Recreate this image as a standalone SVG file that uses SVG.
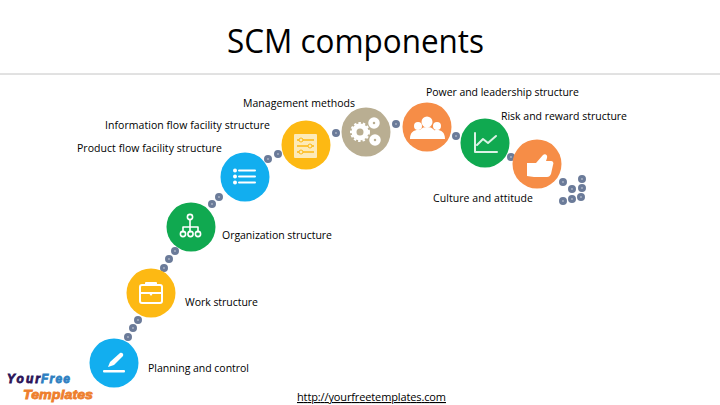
<svg xmlns="http://www.w3.org/2000/svg" width="720" height="405" viewBox="0 0 720 405">
<style>
text{font-family:"Open Sans","Liberation Sans",sans-serif;fill:#000}
.l{font-size:10.5px}
.d{fill:#d5d9e2;stroke:#6b7b99;stroke-width:3.2}
.w{fill:none;stroke:#fff;stroke-width:2;stroke-linecap:round;stroke-linejoin:round}
.f{fill:#fff}
.y{fill:#fdb913}.b{fill:#12aeef}.g{fill:#10a950}.o{fill:#f68d47}.t{fill:#b9ae92}
.lg{font-family:"Liberation Sans",sans-serif;font-weight:700;font-style:italic;stroke-width:.8}
</style>
<rect width="720" height="405" fill="#fff"/>
<line x1="0" y1="74" x2="720" y2="74" stroke="#c4c4c4" stroke-width="1"/>
<text x="227" y="53" font-size="32" textLength="257" lengthAdjust="spacingAndGlyphs">SCM components</text>
<g id="connectors">
<circle class="d" cx="138" cy="320" r="2.4"/><circle class="d" cx="133" cy="328" r="2.4"/><circle class="d" cx="128" cy="337" r="2.4"/>
<circle class="d" cx="175" cy="251" r="2.4"/><circle class="d" cx="169" cy="259" r="2.4"/><circle class="d" cx="164" cy="268" r="2.4"/>
<circle class="d" cx="219" cy="197" r="2.4"/><circle class="d" cx="212" cy="204" r="2.4"/>
<circle class="d" cx="278" cy="154" r="2.4"/><circle class="d" cx="268" cy="159" r="2.4"/>
<circle class="d" cx="336" cy="133" r="2.4"/><circle class="d" cx="396" cy="124" r="2.4"/>
<circle class="d" cx="456" cy="136" r="2.4"/><circle class="d" cx="511" cy="157" r="2.4"/>
<circle class="d" cx="563" cy="182" r="2.4"/><circle class="d" cx="582" cy="179" r="2.4"/><circle class="d" cx="572" cy="189" r="2.4"/><circle class="d" cx="582" cy="188" r="2.4"/><circle class="d" cx="581" cy="197" r="2.4"/><circle class="d" cx="572" cy="199" r="2.4"/><circle class="d" cx="563" cy="201" r="2.4"/>
</g>
<g id="planning">
<circle class="b" cx="114" cy="363" r="24.5"/>
<path class="f" d="M108 367l2-5 10-9c2-1 4 1 3 3l-9 9-6 2z"/>
<rect class="f" x="103" y="370" width="22" height="2.4" rx="1"/>
<text class="l" x="148" y="372" textLength="101">Planning and control</text>
</g>
<g id="work">
<circle class="y" cx="151" cy="293" r="24.5"/>
<rect class="w" x="140" y="285" width="22" height="18" rx="2"/>
<path class="w" d="M140 293h22M146 285v-2h10v2"/>
<path class="f" d="M148 292h6l-3 4z"/>
<text class="l" x="185" y="306" textLength="73">Work structure</text>
</g>
<g id="organization">
<circle class="g" cx="191" cy="227" r="24.5"/>
<g class="w" style="stroke-width:1.6"><circle cx="190" cy="217" r="2.6"/><path d="M190 220v7M183 232v-5h15v5M190 227v5"/><circle cx="183" cy="234" r="2.6"/><circle cx="190.500" cy="234" r="2.6"/><circle cx="198" cy="234" r="2.6"/></g>
<text class="l" x="222" y="239" textLength="110">Organization structure</text>
</g>
<g id="product-flow">
<circle class="b" cx="245" cy="177" r="24.5"/>
<circle class="f" cx="235" cy="170.500" r="2"/><circle class="f" cx="235" cy="176.500" r="2"/><circle class="f" cx="235" cy="182.500" r="2"/>
<path class="w" d="M239 170.500h16M239 176.500h16M239 182.500h16"/>
<text class="l" x="77" y="152" textLength="145">Product flow facility structure</text>
</g>
<g id="information-flow">
<circle class="y" cx="306" cy="145" r="24.500"/>
<rect x="294" y="134" width="23" height="24" rx="1" fill="#fdeab8"/>
<path d="M297 140h17M297 146h17M297 152h17" stroke="#fdb913" stroke-width="1.500"/>
<circle cx="301" cy="140" r="2" fill="#fdeab8" stroke="#fdb913"/><circle cx="310" cy="146" r="2" fill="#fdeab8" stroke="#fdb913"/><circle cx="301" cy="152" r="2" fill="#fdeab8" stroke="#fdb913"/>
<text class="l" x="105" y="129" textLength="165">Information flow facility structure</text>
</g>
<g id="management">
<circle class="t" cx="366" cy="132" r="24.500"/>
<circle cx="360" cy="132" r="6" fill="none" stroke="#fff" stroke-width="5"/>
<circle cx="360" cy="132" r="9" fill="none" stroke="#fff" stroke-width="2" stroke-dasharray="2.500 2"/>
<circle cx="374" cy="123" r="3.500" fill="none" stroke="#fff" stroke-width="4.500"/>
<circle cx="375" cy="140" r="3.500" fill="none" stroke="#fff" stroke-width="4.500"/>
<text class="l" x="243" y="107" textLength="112">Management methods</text>
</g>
<g id="power">
<circle class="o" cx="427" cy="127" r="24.500"/>
<circle class="f" cx="418" cy="126" r="4"/><circle class="f" cx="437" cy="126" r="4"/>
<path class="f" d="M410 139c0-7 4-9 8-9s6 2 7 9zM430 139c1-7 3-9 7-9s8 2 8 9z"/>
<circle class="f" cx="427" cy="122" r="5.500"/><path class="f" d="M417 139c0-9 5-12 10-12s10 3 10 12z"/>
<text class="l" x="426" y="96" textLength="153">Power and leadership structure</text>
</g>
<g id="risk">
<circle class="g" cx="485" cy="143" r="24.500"/>
<path class="w" d="M475 133v19h22M477 145l6-6 5 4 8-7" style="stroke-opacity:.85"/>
<text class="l" x="501" y="120" textLength="126">Risk and reward structure</text>
</g>
<g id="culture">
<circle class="o" cx="537" cy="164" r="24.500"/>
<path class="f" d="M527 163h9l7-8c2-2 5 0 4 3l-1 3h5c2 0 3 2 2 4l-2 9c-1 2-2 3-4 3h-13l-7-1z"/>
<text class="l" x="433" y="202" textLength="100">Culture and attitude</text>
</g>
<g id="logo">
<text class="lg" x="7" y="383" font-size="12" style="fill:#2b1458;stroke:#2b1458" textLength="33">Your</text>
<text class="lg" x="41" y="383" font-size="12" style="fill:#2d7fc1;stroke:#2d7fc1" textLength="29">Free</text>
<text class="lg" x="23" y="399" font-size="13.500" style="fill:#ee7f2d;stroke:#ee7f2d" textLength="70" lengthAdjust="spacingAndGlyphs">Templates</text>
</g>
<text x="297" y="401" font-size="11" text-decoration="underline" textLength="149">http://yourfreetemplates.com</text>
</svg>
